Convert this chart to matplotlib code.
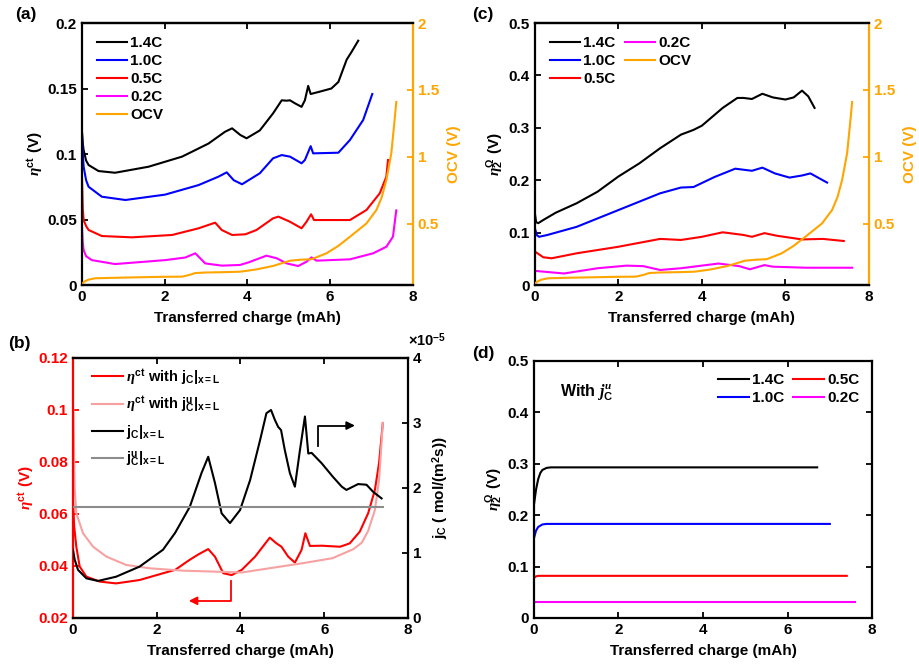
import numpy as np
import matplotlib
matplotlib.use("Agg")
import matplotlib.pyplot as plt
from matplotlib.ticker import FuncFormatter

plt.rcParams['font.family'] = 'Liberation Sans'
plt.rcParams['font.weight'] = 'bold'
plt.rcParams['axes.labelweight'] = 'bold'
plt.rcParams['font.size'] = 11
plt.rcParams['mathtext.fontset'] = 'custom'
plt.rcParams['mathtext.rm'] = 'Liberation Sans:bold'
plt.rcParams['mathtext.bf'] = 'Liberation Sans:bold'
plt.rcParams['mathtext.it'] = 'Liberation Serif:italic'
plt.rcParams['lines.solid_joinstyle'] = 'round'

# colours (MATLAB style)
C14, C10, C05, C02, COCV = 'black', '#0000FF', '#FF0000', '#FF00FF', '#FFA500'

# ---------- data ----------
# OCV (right axis of a and c)
ocv_x = [0, 0.05, 0.15, 0.32, 1.0, 2.0, 2.42, 2.6, 2.74, 3.0, 3.5, 3.82, 4.2, 4.62, 5.03, 5.3,
         5.55, 5.91, 6.2, 6.48, 6.88, 7.12, 7.25, 7.36, 7.48, 7.56, 7.6]
ocv_y = [0.05, 0.067, 0.082, 0.093, 0.098, 0.104, 0.105, 0.118, 0.132, 0.136, 0.139, 0.142,
         0.158, 0.185, 0.224, 0.232, 0.235, 0.279, 0.335, 0.403, 0.503, 0.603, 0.7, 0.827,
         1.027, 1.276, 1.41]

# (a) eta_ct
a14_x = [0, 0.02, 0.04, 0.1, 0.16, 0.4, 0.8, 1.61, 2.42, 3.06, 3.46, 3.63, 3.83, 3.98, 4.3,
         4.62, 4.83, 4.95, 5.03, 5.15, 5.31, 5.39, 5.47, 5.53, 5.75, 6.03, 6.2, 6.4, 6.52, 6.68]
a14_y = [0.117, 0.108, 0.103, 0.095, 0.0916, 0.087, 0.0857, 0.0903, 0.098, 0.108, 0.117, 0.1196,
         0.1145, 0.112, 0.118, 0.131, 0.141, 0.1407, 0.141, 0.1387, 0.136, 0.141, 0.152, 0.1458,
         0.1476, 0.150, 0.155, 0.172, 0.178, 0.1865]
a10_x = [0, 0.02, 0.04, 0.1, 0.16, 0.48, 1.05, 2.01, 2.82, 3.3, 3.5, 3.67, 3.87, 4.3, 4.62, 4.83,
         5.03, 5.31, 5.39, 5.53, 5.59, 6.2, 6.48, 6.8, 7.02]
a10_y = [0.116, 0.1, 0.0903, 0.08, 0.075, 0.0674, 0.0649, 0.069, 0.0763, 0.0827, 0.086, 0.080,
         0.0769, 0.0853, 0.0967, 0.0992, 0.098, 0.0929, 0.0954, 0.106, 0.1005, 0.101, 0.1107,
         0.126, 0.1458]
a05_x = [0, 0.02, 0.04, 0.1, 0.16, 0.48, 1.21, 2.18, 2.82, 3.22, 3.38, 3.63, 3.95, 4.22, 4.62,
         4.75, 5.03, 5.31, 5.43, 5.54, 5.61, 6.48, 6.88, 7.2, 7.36, 7.4]
a05_y = [0.0815, 0.058, 0.0496, 0.045, 0.042, 0.0374, 0.0364, 0.0382, 0.0433, 0.0476, 0.042,
         0.0382, 0.0387, 0.042, 0.0509, 0.0522, 0.0483, 0.0433, 0.0483, 0.054, 0.0496, 0.0496,
         0.0573, 0.070, 0.0827, 0.0954]
a02_x = [0, 0.02, 0.04, 0.1, 0.24, 0.8, 2.01, 2.5, 2.74, 2.98, 3.38, 3.82, 4.03, 4.46, 4.71,
         4.95, 5.23, 5.43, 5.55, 5.67, 6.48, 7.04, 7.36, 7.52, 7.6]
a02_y = [0.0446, 0.032, 0.0267, 0.022, 0.019, 0.016, 0.019, 0.021, 0.0242, 0.0165, 0.0148,
         0.0153, 0.0173, 0.0224, 0.0204, 0.0165, 0.0145, 0.0178, 0.0211, 0.0186, 0.0196, 0.0242,
         0.0292, 0.0369, 0.057]

# (c) eta_2^Omega
c14_x = [0, 0.03, 0.08, 0.2, 0.5, 1.0, 1.5, 2.0, 2.5, 3.0, 3.5, 3.8, 4.0, 4.5, 4.85, 5.0, 5.2,
         5.45, 5.7, 6.0, 6.2, 6.4, 6.55, 6.7]
c14_y = [0.137, 0.12, 0.118, 0.124, 0.138, 0.156, 0.178, 0.207, 0.232, 0.261, 0.287, 0.296, 0.304,
         0.338, 0.357, 0.357, 0.355, 0.365, 0.358, 0.354, 0.358, 0.371, 0.36, 0.338]
c10_x = [0, 0.05, 0.1, 0.3, 1.0, 2.0, 3.0, 3.5, 3.8, 4.3, 4.8, 5.2, 5.45, 5.75, 6.1, 6.4, 6.6, 7.0]
c10_y = [0.108, 0.095, 0.092, 0.0955, 0.111, 0.143, 0.175, 0.186, 0.187, 0.206, 0.222, 0.218,
         0.224, 0.213, 0.205, 0.209, 0.213, 0.1955]
c05_x = [0, 0.2, 0.4, 1.0, 2.0, 3.0, 3.5, 4.0, 4.5, 5.0, 5.2, 5.5, 5.8, 6.4, 6.9, 7.4]
c05_y = [0.064, 0.053, 0.051, 0.0605, 0.073, 0.088, 0.086, 0.092, 0.1006, 0.0955, 0.092, 0.099,
         0.094, 0.087, 0.088, 0.084]
c02_x = [0, 0.7, 1.5, 2.2, 2.6, 3.0, 3.5, 4.0, 4.4, 4.9, 5.15, 5.5, 5.7, 6.5, 7.6]
c02_y = [0.027, 0.022, 0.032, 0.037, 0.036, 0.0287, 0.032, 0.037, 0.041, 0.036, 0.030, 0.038,
         0.035, 0.033, 0.033]

# (b) eta_ct with real / uniform jC, and jC (x1e-5 mol/(m2 s))
b_eta_x = [0, 0.03, 0.08, 0.16, 0.32, 0.64, 1.03, 1.59, 2.15, 2.44, 2.78, 3.0, 3.23, 3.39, 3.59,
           3.79, 4.03, 4.35, 4.7, 4.86, 4.98, 5.14, 5.3, 5.46, 5.55, 5.66, 5.94, 6.38, 6.61, 6.85,
           7.05, 7.21, 7.31, 7.4]
b_eta_y = [0.065, 0.055, 0.0474, 0.0398, 0.0359, 0.034, 0.0333, 0.0346, 0.0372, 0.0385, 0.0423,
           0.0445, 0.0465, 0.0436, 0.0372, 0.0365, 0.0385, 0.0436, 0.0509, 0.0487, 0.0474, 0.0436,
           0.0413, 0.0462, 0.0526, 0.0477, 0.0478, 0.0474, 0.0487, 0.0532, 0.0603, 0.0692,
           0.0796, 0.095]
b_etau_x = [0.01, 0.04, 0.08, 0.24, 0.48, 0.8, 1.27, 1.84, 2.63, 4.03, 5.46, 6.2, 6.7, 6.9,
            7.05, 7.21, 7.31, 7.4]
b_etau_y = [0.1, 0.07, 0.0603, 0.0526, 0.0474, 0.0436, 0.0404, 0.0391, 0.0382, 0.0375, 0.041,
            0.043, 0.0465, 0.049, 0.0535, 0.0615, 0.073, 0.095]
jc_x = [0, 0.04, 0.12, 0.32, 0.6, 1.03, 1.59, 2.15, 2.44, 2.79, 3.07, 3.23, 3.39, 3.55, 3.75,
        3.99, 4.23, 4.47, 4.62, 4.73, 4.82, 4.9, 4.97, 5.06, 5.18, 5.3, 5.42, 5.54, 5.62, 5.7,
        5.94, 6.21, 6.42, 6.53, 6.81, 7.01, 7.17, 7.37]
jc_y = [1.05, 0.9, 0.74, 0.61, 0.57, 0.635, 0.79, 1.05, 1.31, 1.71, 2.23, 2.48, 2.08, 1.61,
        1.46, 1.66, 2.12, 2.74, 3.15, 3.2, 3.05, 2.94, 2.89, 2.58, 2.23, 2.02, 2.58, 3.1, 2.53,
        2.54, 2.38, 2.17, 2.02, 1.97, 2.06, 2.05, 1.94, 1.84]
jcu_x = [0, 7.4]
jcu_y = [1.70, 1.70]

# (d) eta_2^Omega with uniform jC
d14_x = [0, 0.05, 0.1, 0.15, 0.2, 0.3, 0.4, 6.7]
d14_y = [0.22, 0.25, 0.27, 0.282, 0.288, 0.292, 0.293, 0.293]
d10_x = [0, 0.05, 0.1, 0.2, 0.3, 7.0]
d10_y = [0.155, 0.17, 0.177, 0.182, 0.183, 0.183]
d05_x = [0, 0.05, 0.1, 7.4]
d05_y = [0.078, 0.081, 0.082, 0.082]
d02_x = [0, 7.6]
d02_y = [0.031, 0.031]

xlab = 'Transferred charge (mAh)'
fmt = FuncFormatter(lambda v, p: ('%g' % round(v, 4)))
FS = 11


def style(ax):
    ax.tick_params(direction='in', length=4, width=1.3, labelsize=FS)
    for s in ax.spines.values():
        s.set_linewidth(1.6)
    ax.yaxis.set_major_formatter(fmt)
    ax.xaxis.set_major_formatter(fmt)


fig = plt.figure(figsize=(9.19, 6.65), dpi=100)
axa = fig.add_axes([0.0892, 0.5714, 0.360, 0.394])
axc = fig.add_axes([0.582, 0.5714, 0.3634, 0.394])
axb = fig.add_axes([0.0794, 0.0707, 0.3645, 0.391])
axd = fig.add_axes([0.581, 0.0707, 0.368, 0.3865])

lw = 1.5

# ----- (a) and (c) -----
for ax, data, ylim, yt, ylab in [
        (axa, [(a14_x, a14_y), (a10_x, a10_y), (a05_x, a05_y), (a02_x, a02_y)],
         (0, 0.2), np.arange(0, 0.21, 0.05), r'$\eta^{\mathbf{ct}}$ (V)'),
        (axc, [(c14_x, c14_y), (c10_x, c10_y), (c05_x, c05_y), (c02_x, c02_y)],
         (0, 0.5), np.arange(0, 0.51, 0.1), r'$\eta_{\mathbf{2}}^{\Omega}$ (V)')]:
    tw = ax.twinx()
    hs = []
    for (x, y), col, lab in zip(data, [C14, C10, C05, C02], ['1.4C', '1.0C', '0.5C', '0.2C']):
        h, = ax.plot(x, y, color=col, lw=lw, label=lab)
        hs.append(h)
    h, = tw.plot(ocv_x, ocv_y, color=COCV, lw=lw, label='OCV')
    hs.append(h)
    ax.set_xlim(0, 8)
    ax.set_ylim(*ylim)
    ax.set_xticks([0, 2, 4, 6, 8])
    ax.set_yticks(yt)
    tw.set_ylim(0.0425, 2)
    tw.set_yticks([0.5, 1, 1.5, 2])
    style(ax)
    style(tw)
    ax.tick_params(top=True, right=False)
    tw.spines['right'].set_color(COCV)
    tw.spines['left'].set_visible(False)
    ax.spines['right'].set_visible(False)
    tw.tick_params(axis='y', colors=COCV)
    tw.set_ylabel('OCV (V)', color=COCV, fontsize=FS, labelpad=6)
    ax.set_ylabel(ylab, fontsize=FS, labelpad=2)
    ax.set_xlabel(xlab, fontsize=FS, labelpad=5)
    if ax is axa:
        ax.legend(handles=hs, loc='upper left', bbox_to_anchor=(0.045, 0.95), frameon=False,
                  borderpad=0, borderaxespad=0, handlelength=2.0, handletextpad=0.2,
                  labelspacing=0.26, fontsize=FS)
    else:
        ax.legend(handles=hs, loc='upper left', bbox_to_anchor=(0.045, 0.95), frameon=False,
                  ncol=2, borderpad=0, borderaxespad=0, handlelength=2.0, handletextpad=0.2,
                  labelspacing=0.26, columnspacing=0.6, fontsize=FS)

# ----- (b) -----
tb = axb.twinx()
h1, = axb.plot(b_eta_x, b_eta_y, color='#FF0000', lw=lw,
               label=r'$\eta^{\mathbf{ct}}$ with j$_{\mathbf{C}}$|$_{\mathbf{x=L}}$')
h2, = axb.plot(b_etau_x, b_etau_y, color='#F7A1A1', lw=lw,
               label=r'$\eta^{\mathbf{ct}}$ with j$^{\mathbf{u}}_{\mathbf{C}}$|$_{\mathbf{x=L}}$')
h3, = tb.plot(jc_x, jc_y, color='black', lw=lw, label=r'j$_{\mathbf{C}}$|$_{\mathbf{x=L}}$')
h4, = tb.plot(jcu_x, jcu_y, color='#8C8C8C', lw=lw,
              label=r'j$^{\mathbf{u}}_{\mathbf{C}}$|$_{\mathbf{x=L}}$')
axb.set_xlim(0, 8)
axb.set_ylim(0.02, 0.12)
axb.set_xticks([0, 2, 4, 6, 8])
axb.set_yticks([0.02, 0.04, 0.06, 0.08, 0.1, 0.12])
tb.set_ylim(0, 4)
tb.set_yticks([0, 1, 2, 3, 4])
style(axb)
style(tb)
axb.tick_params(top=True, right=False)
axb.tick_params(axis='y', colors='#FF0000')
axb.spines['left'].set_color('#FF0000')
axb.spines['right'].set_visible(False)
tb.spines['left'].set_visible(False)
axb.set_ylabel(r'$\eta^{\mathbf{ct}}$ (V)', color='#FF0000', fontsize=FS, labelpad=2)
tb.set_ylabel(r'j$_{\mathbf{C}}$ ( mol/(m$^{\mathbf{2}}$s))', fontsize=FS, labelpad=6)
axb.set_xlabel(xlab, fontsize=FS, labelpad=5)
tb.text(1.0, 1.035, r'$\times$10$^{\mathbf{-5}}$', transform=tb.transAxes, fontsize=10.5,
        ha='left', va='bottom')
axb.legend(handles=[h1, h2, h3, h4], loc='upper left', bbox_to_anchor=(0.057, 0.965),
           frameon=False, borderpad=0, borderaxespad=0, handlelength=2.1, handletextpad=0.2,
           labelspacing=0.55, fontsize=10.5)
# arrows
tb.plot([5.85, 5.85, 6.6], [2.64, 2.96, 2.96], color='black', lw=1.3)
tb.annotate('', xy=(6.8, 2.96), xytext=(6.55, 2.96),
            arrowprops=dict(arrowstyle='-|>', color='black', lw=1.3, mutation_scale=12))
axb.plot([3.77, 3.77, 2.9], [0.0343, 0.0266, 0.0266], color='#FF0000', lw=1.3)
axb.annotate('', xy=(2.7, 0.0266), xytext=(2.95, 0.0266),
             arrowprops=dict(arrowstyle='-|>', color='#FF0000', lw=1.3, mutation_scale=12))

# ----- (d) -----
for (x, y), col, lab in zip([(d14_x, d14_y), (d10_x, d10_y), (d05_x, d05_y), (d02_x, d02_y)],
                            [C14, C10, C05, C02], ['1.4C', '1.0C', '0.5C', '0.2C']):
    axd.plot(x, y, color=col, lw=lw, label=lab)
axd.set_xlim(0, 8)
axd.set_ylim(0, 0.5)
axd.set_xticks([0, 2, 4, 6, 8])
axd.set_yticks(np.arange(0, 0.51, 0.1))
style(axd)
axd.tick_params(top=True, right=True)
axd.set_ylabel(r'$\eta_{\mathbf{2}}^{\Omega}$ (V)', fontsize=FS, labelpad=2)
axd.set_xlabel(xlab, fontsize=FS, labelpad=5)
axd.text(0.62, 0.44, r'With $j_{\mathrm{C}}^{u}$', fontsize=11.5, va='center')
axd.legend(loc='upper right', bbox_to_anchor=(0.962, 0.953), ncol=2, frameon=False,
           borderpad=0, borderaxespad=0, handlelength=2.0, handletextpad=0.2,
           labelspacing=0.26, columnspacing=0.6, fontsize=FS)

# panel letters
fig.text(15 / 919, 1 - 15 / 665, '(a)', fontsize=12.5, va='center')
fig.text(472 / 919, 1 - 15 / 665, '(c)', fontsize=12.5, va='center')
fig.text(8 / 919, 1 - 343 / 665, '(b)', fontsize=12.5, va='center')
fig.text(472 / 919, 1 - 353 / 665, '(d)', fontsize=12.5, va='center')

fig.savefig('out.png', dpi=100)
